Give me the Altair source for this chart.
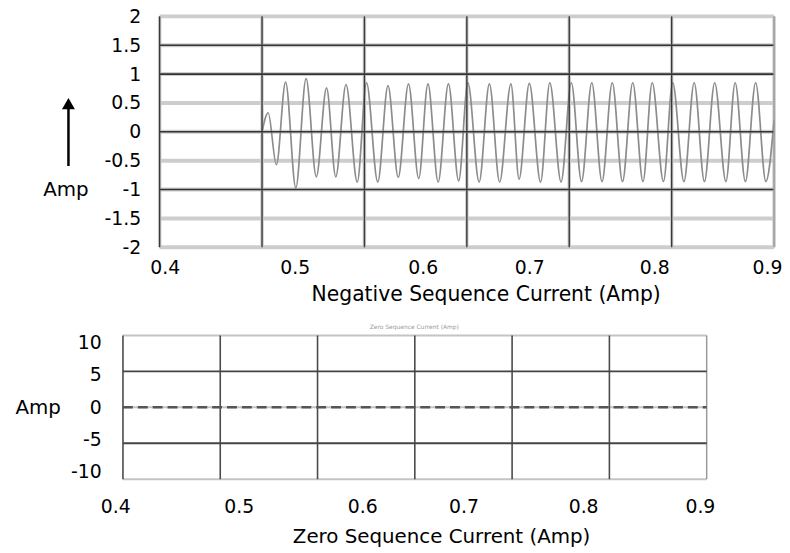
import json
import altair as alt
import pandas as pd

FONT = "DejaVu Sans"

# ---------------- top panel: negative sequence current ----------------
neg_t = [0.100, 0.106, 0.114, 0.123, 0.133, 0.143, 0.153, 0.163, 0.172, 0.182,
         0.193, 0.202, 0.213, 0.223, 0.233, 0.243, 0.253, 0.262, 0.272, 0.282,
         0.292, 0.301, 0.312, 0.322, 0.332, 0.343, 0.351, 0.361, 0.372, 0.381,
         0.392, 0.402, 0.412, 0.422, 0.432, 0.442, 0.452, 0.462, 0.472, 0.481,
         0.492, 0.501, 0.512, 0.522, 0.532, 0.542, 0.553, 0.562, 0.572, 0.582,
         0.592, 0.600]
neg_amp = [0.0, 0.33, -0.57, 0.86, -0.97, 0.92, -0.78, 0.76, -0.78, 0.82,
           -0.87, 0.85, -0.87, 0.80, -0.79, 0.83, -0.81, 0.83, -0.87, 0.83,
           -0.85, 0.85, -0.87, 0.83, -0.87, 0.83, -0.82, 0.84, -0.87, 0.85,
           -0.87, 0.85, -0.86, 0.85, -0.86, 0.85, -0.86, 0.85, -0.86, 0.85,
           -0.86, 0.85, -0.86, 0.85, -0.86, 0.85, -0.86, 0.85, -0.86, 0.85,
           -0.86, 0.20]

top_x_tick_pos = [0.005, 0.132, 0.257, 0.361, 0.483, 0.593]
top_x_tick_labels = ["0.4", "0.5", "0.6", "0.7", "0.8", "0.9"]
top_y_tick_pos = [2, 1.5, 1, 0.5, 0, -0.5, -1, -1.5, -2]
top_y_tick_labels = ["2", "1.5", "1", "0.5", "0", "-0.5", "-1", "-1.5", "-2"]
top_h_grid_all = [2, 1.5, 1, 0.5, 0, -0.5, -1, -1.5, -2]
top_h_grid_dark = [1.5, 1, 0, -1]
grid_t_all = [0, 0.1, 0.2, 0.3, 0.4, 0.5, 0.6]
grid_t_dark = [0, 0.1, 0.2, 0.3, 0.4, 0.5]
grid_t_edge = [0.6]

# ---------------- bottom panel: zero sequence current ----------------
zero_t = [0.0, 0.6]
zero_amp = [0.0, 0.0]

bot_x_tick_pos = [-0.008, 0.119, 0.246, 0.350, 0.473, 0.593]
bot_x_tick_labels = ["0.4", "0.5", "0.6", "0.7", "0.8", "0.9"]
bot_y_tick_pos = [9, 4.5, 0, -4.5, -9]
bot_y_tick_labels = ["10", "5", "0", "-5", "-10"]
bot_h_grid_dark = [5, -5]
bot_h_grid_light = [10, 0, -10]

LABEL_SIZE = 19
TITLE_SIZE = 20


def lookup_expr(pos, labels):
    return f"{json.dumps(labels)}[indexof({json.dumps(pos)}, datum.value)]"


def make_axis(pos, labels, title, label_pad, title_pad, **kw):
    return alt.Axis(values=pos, labelExpr=lookup_expr(pos, labels), title=title,
                    grid=False, ticks=False, domain=False, labelPadding=label_pad,
                    titlePadding=title_pad, labelFont=FONT, titleFont=FONT,
                    labelFontSize=LABEL_SIZE, titleFontWeight="normal",
                    labelColor="black", titleColor="black", labelOverlap=False,
                    labelFlush=False, **kw)


# ---- top chart ----
tx_scale = alt.Scale(domain=[0, 0.6], nice=False, zero=False)
ty_scale = alt.Scale(domain=[-2, 2], nice=False, zero=False)
tx_axis = make_axis(top_x_tick_pos, top_x_tick_labels,
                    "Negative Sequence Current (Amp)", 11, 8,
                    titleFontSize=20.5, titleX=329, titleAlign="center")
ty_axis = make_axis(top_y_tick_pos, top_y_tick_labels, "Amp", 19, 0,
                    titleFontSize=TITLE_SIZE,
                    titleAngle=0, titleX=-95, titleY=175, titleAlign="center",
                    titleBaseline="middle")


def TX():
    return alt.X("t:Q", scale=tx_scale, axis=tx_axis)


def TY():
    return alt.Y("amp:Q", scale=ty_scale, axis=ty_axis)


wave_df = pd.DataFrame({"t": neg_t, "amp": neg_amp})

t_hband = alt.Chart(pd.DataFrame({"amp": top_h_grid_all})).mark_rule(
    color="#cdcdcd", strokeWidth=4).encode(y=TY())
t_vband = alt.Chart(pd.DataFrame({"t": grid_t_all})).mark_rule(
    color="#cdcdcd", strokeWidth=3.5).encode(x=TX())
t_wave = alt.Chart(wave_df).mark_line(
    color="#8c8c8c", strokeWidth=1.7, interpolate="monotone").encode(x=TX(), y=TY())
t_hdark = alt.Chart(pd.DataFrame({"amp": top_h_grid_dark})).mark_rule(
    color="#333333", strokeWidth=1.6).encode(y=TY())
t_vdark = alt.Chart(pd.DataFrame({"t": grid_t_dark})).mark_rule(
    color="#3a3a3a", strokeWidth=1.4).encode(x=TX())
t_vedge = alt.Chart(pd.DataFrame({"t": grid_t_edge})).mark_rule(
    color="#9a9a9a", strokeWidth=1.5).encode(x=TX())

one = pd.DataFrame({"k": [1]})
arrow_shaft = alt.Chart(one).mark_rule(color="black", strokeWidth=2.5).encode(
    x=alt.value(-92), y=alt.value(151), y2=alt.value(92))
arrow_head = alt.Chart(one).mark_point(
    shape="triangle-up", filled=True, color="black", opacity=1, size=170).encode(
    x=alt.value(-92), y=alt.value(88))

top = alt.layer(t_hband, t_vband, t_wave, t_hdark, t_vdark, t_vedge,
                arrow_shaft, arrow_head).properties(width=620, height=233)

# ---- bottom chart ----
BOT_SHIFT = 37  # the lower panel sits further left than the upper one
BOT_W = 589
BOT_PAD_T = 0.01  # a little room left of t=0 for the first tick label
bx_scale = alt.Scale(domain=[-BOT_PAD_T, 0.6],
                     range=[-BOT_SHIFT - BOT_PAD_T * BOT_W / 0.6, BOT_W - BOT_SHIFT],
                     nice=False, zero=False)
by_scale = alt.Scale(domain=[-10, 10], nice=False, zero=False)
bx_axis = make_axis(bot_x_tick_pos, bot_x_tick_labels,
                    "Zero Sequence Current (Amp)", 19, 10,
                    titleFontSize=TITLE_SIZE, titleX=284, titleAlign="center")
by_axis = make_axis(bot_y_tick_pos, bot_y_tick_labels, "Amp", 22, 0,
                    offset=BOT_SHIFT, titleFontSize=TITLE_SIZE,
                    titleAngle=0, titleX=-86, titleY=73, titleAlign="center",
                    titleBaseline="middle")


def BX():
    return alt.X("t:Q", scale=bx_scale, axis=bx_axis)


def BY():
    return alt.Y("amp:Q", scale=by_scale, axis=by_axis)


def hrule_df(vals):
    return pd.DataFrame({"amp": vals, "t": grid_t_all[0], "t2": grid_t_all[-1]})


b_hlight = alt.Chart(hrule_df(bot_h_grid_light)).mark_rule(
    color="#c4c4c4", strokeWidth=2).encode(y=BY(), x=BX(), x2="t2:Q")
b_hdark = alt.Chart(hrule_df(bot_h_grid_dark)).mark_rule(
    color="#444444", strokeWidth=1.8).encode(y=BY(), x=BX(), x2="t2:Q")
b_vdark = alt.Chart(pd.DataFrame({"t": grid_t_dark})).mark_rule(
    color="#4a4a4a", strokeWidth=1.6).encode(x=BX())
b_vedge = alt.Chart(pd.DataFrame({"t": grid_t_edge})).mark_rule(
    color="#9a9a9a", strokeWidth=1.5).encode(x=BX())
b_line = alt.Chart(pd.DataFrame({"t": zero_t, "amp": zero_amp})).mark_line(
    color="#555555", strokeWidth=2.5, strokeDash=[10, 5]).encode(x=BX(), y=BY())

bottom = alt.layer(b_hlight, b_vdark, b_vedge, b_hdark, b_line).properties(
    width=BOT_W - BOT_SHIFT, height=145,
    title=alt.TitleParams("Zero Sequence Current (Amp)", fontSize=6, color="#9a9a9a",
                          font=FONT, fontWeight="normal", offset=4, anchor="middle",
                          dx=-19))

chart = alt.concat(top, bottom, columns=1, spacing=18).properties(
    padding={"left": 7, "top": -3, "right": 0, "bottom": 0},
    background="white",
).configure_view(stroke=None)

chart.save("out.html", embed_options={"renderer": "svg", "actions": False})
